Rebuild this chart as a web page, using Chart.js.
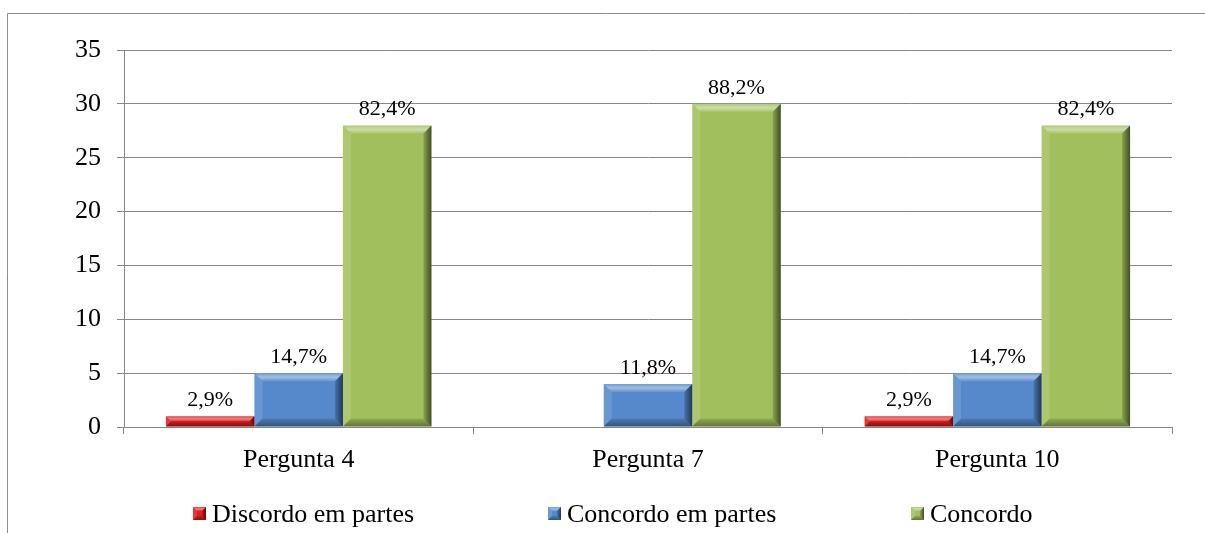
<!DOCTYPE html>
<html>
<head>
  <title>Perguntas 4, 7 e 10</title>
  <script src="https://cdn.jsdelivr.net/npm/chart.js"></script>
  <style>
    body { margin: 0; background: #fff; }
  </style>
</head>
<body>
  <canvas id="barChart" width="1205" height="533"></canvas>

  <script>
    // Chart data
    const categories = ['Pergunta 4', 'Pergunta 7', 'Pergunta 10'];
    const seriesNames = ['Discordo em partes', 'Concordo em partes', 'Concordo'];
    const discordoParcial = [1, 0, 1];
    const concordoParcial = [5, 4, 5];
    const concordo = [28, 30, 28];
    const discordoParcialLabels = ['2,9%', '', '2,9%'];
    const concordoParcialLabels = ['14,7%', '11,8%', '14,7%'];
    const concordoLabels = ['82,4%', '88,2%', '82,4%'];
    const yMax = 35;
    const yStep = 5;

    const colors = ['#e21d1d', '#5589cb', '#a1c05d'];
    const gridColor = '#868686';
    const fontFamily = '"Liberation Serif", "Times New Roman", serif';

    // draw a bevel over a rectangle, like the office "bevel" effect
    function bevel(ctx, x0, y0, x1, y1, b) {
      b = Math.min(b, (x1 - x0) / 2, (y1 - y0) / 2);
      const poly = (pts, fill) => {
        ctx.beginPath();
        ctx.moveTo(pts[0][0], pts[0][1]);
        for (let i = 1; i < pts.length; i++) ctx.lineTo(pts[i][0], pts[i][1]);
        ctx.closePath();
        ctx.fillStyle = fill;
        ctx.fill();
      };
      const top = ctx.createLinearGradient(0, y0, 0, y0 + b);
      top.addColorStop(0, 'rgba(255,255,255,0.15)');
      top.addColorStop(0.5, 'rgba(255,255,255,0.45)');
      top.addColorStop(1, 'rgba(255,255,255,0.1)');
      poly([[x0, y0], [x1, y0], [x1 - b, y0 + b], [x0 + b, y0 + b]], top);
      poly([[x0, y0], [x0 + b, y0 + b], [x0 + b, y1 - b], [x0, y1]], 'rgba(255,255,255,0.12)');
      const right = ctx.createLinearGradient(x1 - b, 0, x1, 0);
      right.addColorStop(0, 'rgba(0,0,0,0.15)');
      right.addColorStop(1, 'rgba(0,0,0,0.6)');
      poly([[x1, y0], [x1, y1], [x1 - b, y1 - b], [x1 - b, y0 + b]], right);
      const bottom = ctx.createLinearGradient(0, y1 - b, 0, y1);
      bottom.addColorStop(0, 'rgba(0,0,0,0.1)');
      bottom.addColorStop(1, 'rgba(0,0,0,0.4)');
      poly([[x0, y1], [x1, y1], [x1 - b, y1 - b], [x0 + b, y1 - b]], bottom);
    }

    const bevelPlugin = {
      id: 'bevelBars',
      beforeDraw(chart) {
        // outer frame (cropped, only top and left visible)
        const ctx = chart.ctx;
        ctx.save();
        ctx.strokeStyle = '#8c8c8c';
        ctx.lineWidth = 1;
        ctx.beginPath();
        ctx.moveTo(7.5, chart.height);
        ctx.lineTo(7.5, 13.5);
        ctx.lineTo(chart.width, 13.5);
        ctx.stroke();
        ctx.restore();
      },
      afterDatasetsDraw(chart) {
        const ctx = chart.ctx;
        const labelSets = [discordoParcialLabels, concordoParcialLabels, concordoLabels];
        ctx.save();
        chart.data.datasets.forEach((ds, di) => {
          const meta = chart.getDatasetMeta(di);
          meta.data.forEach((bar, i) => {
            const x0 = bar.x - bar.width / 2;
            const x1 = bar.x + bar.width / 2;
            const y0 = Math.min(bar.y, bar.base);
            const y1 = Math.max(bar.y, bar.base);
            if (y1 - y0 > 0.5) bevel(ctx, x0, y0, x1, y1, 8);
            const txt = labelSets[di][i];
            if (txt) {
              ctx.fillStyle = '#000';
              ctx.font = '22px ' + fontFamily;
              ctx.textAlign = 'center';
              ctx.textBaseline = 'bottom';
              ctx.fillText(txt, bar.x, y0 - 5);
            }
          });
        });
        ctx.restore();
      },
      afterDraw(chart) {
        // legend along the bottom
        const ctx = chart.ctx;
        const legendX = [193, 548, 911];
        const cy = 514;
        ctx.save();
        ctx.font = '26px ' + fontFamily;
        ctx.textBaseline = 'middle';
        ctx.textAlign = 'left';
        seriesNames.forEach((name, i) => {
          const x = legendX[i];
          ctx.fillStyle = colors[i];
          ctx.fillRect(x, cy - 7, 13, 13);
          bevel(ctx, x, cy - 7, x + 13, cy + 6, 4);
          ctx.fillStyle = '#000';
          ctx.fillText(name, x + 19, cy + 1);
        });
        ctx.restore();
      }
    };

    const ctx = document.getElementById('barChart').getContext('2d');
    const myChart = new Chart(ctx, {
      type: 'bar',
      data: {
        labels: categories,
        datasets: [
          { label: seriesNames[0], data: discordoParcial, backgroundColor: colors[0] },
          { label: seriesNames[1], data: concordoParcial, backgroundColor: colors[1] },
          { label: seriesNames[2], data: concordo, backgroundColor: colors[2] }
        ]
      },
      options: {
        responsive: false,
        animation: false,
        categoryPercentage: 0.76,
        barPercentage: 1,
        layout: { padding: { top: 50, right: 33, bottom: 46, left: 0 } },
        plugins: {
          legend: { display: false },
          tooltip: { enabled: false }
        },
        scales: {
          x: {
            afterFit(scale) { scale.height = 60; },
            grid: { drawOnChartArea: false, color: gridColor, tickLength: 7, offset: true },
            border: { color: gridColor },
            ticks: { color: '#000', padding: 11, font: { family: fontFamily, size: 26 } }
          },
          y: {
            min: 0,
            max: yMax,
            afterFit(scale) { scale.width = 124; },
            grid: { color: gridColor, tickLength: 7 },
            border: { color: gridColor },
            ticks: { stepSize: yStep, color: '#000', padding: 16, font: { family: fontFamily, size: 26 } }
          }
        }
      },
      plugins: [bevelPlugin]
    });
  </script>
</body>
</html>
